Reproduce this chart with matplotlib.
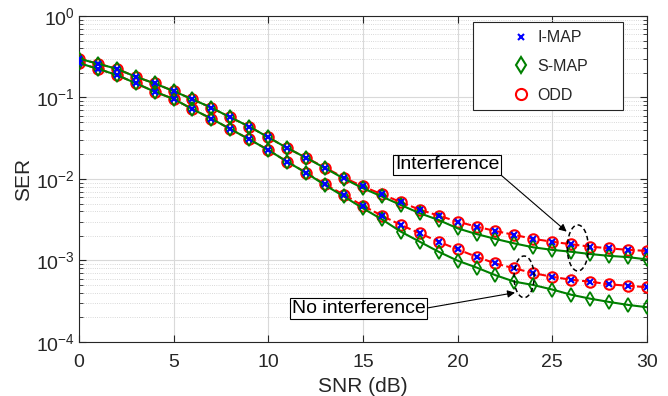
import numpy as np
import matplotlib.pyplot as plt
from matplotlib.lines import Line2D
from matplotlib.patches import Rectangle
from matplotlib.ticker import FixedLocator, FuncFormatter, LogLocator, NullFormatter

plt.rcParams.update({
    "font.family": ["Liberation Sans", "DejaVu Sans"],
    "mathtext.fontset": "custom",
    "mathtext.rm": "Liberation Sans",
    "mathtext.it": "Liberation Sans:italic",
    "mathtext.default": "regular",
})

snr = np.arange(0, 31)

# with interference (upper group)
odd_intf = [0.30, 0.26, 0.225, 0.18, 0.149, 0.12, 0.095, 0.075, 0.057, 0.044,
            0.0325, 0.024, 0.0183, 0.0138, 0.0104, 0.0081, 0.0065, 0.0052, 0.0042, 0.00355,
            0.0030, 0.0026, 0.0023, 0.00206, 0.00184, 0.0017, 0.00158, 0.00148, 0.00141, 0.00135,
            0.00131]
imap_intf = list(odd_intf)
smap_intf = [0.30, 0.26, 0.225, 0.18, 0.149, 0.12, 0.095, 0.075, 0.057, 0.044,
             0.0325, 0.024, 0.0182, 0.0136, 0.0101, 0.0077, 0.0061, 0.0048, 0.0038, 0.00314,
             0.00248, 0.00211, 0.00184, 0.00162, 0.00145, 0.00135, 0.00128, 0.0012, 0.00114, 0.0011,
             0.00103]

# no interference (lower group)
odd_noint = [0.265, 0.225, 0.189, 0.15, 0.118, 0.096, 0.072, 0.055, 0.041, 0.0307,
             0.0227, 0.0163, 0.012, 0.0086, 0.0064, 0.0047, 0.00355, 0.00273, 0.00216, 0.0017,
             0.00137, 0.00111, 0.00092, 0.0008, 0.0007, 0.00063, 0.00058, 0.00055, 0.00051, 0.00049,
             0.00047]
imap_noint = list(odd_noint)
smap_noint = [0.265, 0.225, 0.189, 0.15, 0.118, 0.096, 0.072, 0.055, 0.041, 0.0307,
              0.0227, 0.0163, 0.0119, 0.0084, 0.0061, 0.00437, 0.0032, 0.00226, 0.0017, 0.00128,
              0.000995, 0.00082, 0.00066, 0.00055, 0.0005, 0.00044, 0.00038, 0.00034, 0.00031, 0.000285,
              0.000267]

GREEN = (0, 0.5, 0)
INK = '0.15'

fig = plt.figure(figsize=(6.68, 3.96), dpi=100)
ax = fig.add_axes([0.118, 0.1364, 0.8505, 0.8232])

for odd, imap, smap in ((odd_intf, imap_intf, smap_intf), (odd_noint, imap_noint, smap_noint)):
    ax.plot(snr, odd, color='r', linestyle='--', linewidth=1.5, marker='o',
            markersize=7.5, markerfacecolor='none', markeredgewidth=1.5, zorder=3)
    ax.plot(snr, smap, color=GREEN, linestyle='-', linewidth=1.5, marker='d',
            markersize=7.5, markerfacecolor='none', markeredgewidth=1.3, zorder=4)
    ax.plot(snr, imap, color='b', linestyle='none', marker='x',
            markersize=4, markeredgewidth=1.5, zorder=5)

ax.set_yscale('log')
ax.set_xlim(0, 30)
ax.set_ylim(1e-4, 1)
ax.xaxis.set_major_locator(FixedLocator([0, 5, 10, 15, 20, 25, 30]))
ax.yaxis.set_major_locator(LogLocator(base=10, numticks=10))
ax.yaxis.set_minor_locator(LogLocator(base=10, subs=np.arange(2, 10), numticks=10))
ax.yaxis.set_minor_formatter(NullFormatter())
ax.yaxis.set_major_formatter(FuncFormatter(lambda v, p: r'$10^{%d}$' % round(np.log10(v))))

ax.grid(True, which='major', color='0.85', linewidth=0.8, linestyle='-')
ax.grid(True, which='minor', axis='y', color='0.8', linewidth=0.6, linestyle=':')
ax.set_axisbelow(True)

ax.tick_params(which='both', direction='in', top=True, right=True, labelsize=14,
               color=INK, labelcolor=INK)
ax.tick_params(which='major', length=5, width=0.8)
ax.tick_params(which='minor', length=3, width=0.6)
ax.tick_params(axis='x', pad=8.5)
ax.tick_params(axis='y', pad=3)
for side in ax.spines.values():
    side.set_linewidth(0.8)
    side.set_color(INK)

ax.set_xlabel('SNR (dB)', fontsize=15, color=INK, labelpad=4.5)
ax.set_ylabel('SER', fontsize=15, color=INK, labelpad=2)

# dashed ellipses marking each group
t = np.linspace(0, 2 * np.pi, 200)
for cx, w, ylo, yhi in ((26.35, 1.11, 0.000743, 0.00273), (23.51, 1.06, 0.00035, 0.001135)):
    cy = 0.5 * (np.log10(ylo) + np.log10(yhi))
    hy = 0.5 * (np.log10(yhi) - np.log10(ylo))
    ax.plot(cx + 0.5 * w * np.cos(t), 10 ** (cy + hy * np.sin(t)),
            color='k', linestyle=(0, (3, 2)), linewidth=1.1, zorder=6)

box = dict(boxstyle='square,pad=0.1', facecolor='white', edgecolor='k', linewidth=0.8)
ax.annotate('Interference', xy=(25.76, 0.00226), xytext=(19.44, 0.01485),
            fontsize=14, ha='center', va='center', bbox=box, zorder=7,
            arrowprops=dict(arrowstyle='-|>', color='k', lw=0.8, relpos=(1, 0),
                            shrinkA=0, shrinkB=0, mutation_scale=11))
ax.annotate('No interference', xy=(23.03, 0.000403), xytext=(14.77, 0.000259),
            fontsize=14, ha='center', va='center', bbox=box, zorder=7,
            arrowprops=dict(arrowstyle='-|>', color='k', lw=0.8, relpos=(1, 0.5),
                            shrinkA=0, shrinkB=0, mutation_scale=11))

# legend: MATLAB-style wide frame drawn separately
ax.add_patch(Rectangle((0.693, 0.712), 0.265, 0.2705, transform=ax.transAxes,
                       facecolor='white', edgecolor=INK, linewidth=0.8, zorder=8))
handles = [
    Line2D([], [], color='b', marker='x', linestyle='none', markersize=5, markeredgewidth=1.5),
    Line2D([], [], color=GREEN, marker='d', linestyle='none', markersize=8,
           markerfacecolor='none', markeredgewidth=1.5),
    Line2D([], [], color='r', marker='o', linestyle='none', markersize=8,
           markerfacecolor='none', markeredgewidth=1.5),
]
leg = ax.legend(handles, ['I-MAP', 'S-MAP', 'ODD'], loc='center left',
                bbox_to_anchor=(0.751, 0.845), fontsize=11.5, frameon=False,
                labelspacing=0.85, handlelength=2.0, handletextpad=0.0,
                borderpad=0, borderaxespad=0)
for txt in leg.get_texts():
    txt.set_color(INK)
leg.set_zorder(9)

fig.savefig('out.png', dpi=100)
